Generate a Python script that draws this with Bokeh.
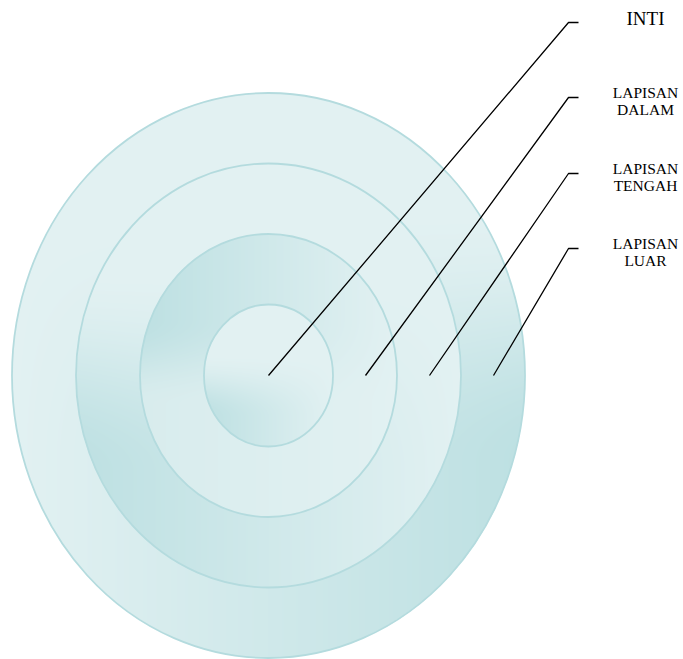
import numpy as np
from bokeh.plotting import figure
from bokeh.models import Range1d
from bokeh.embed import file_html
from bokeh.resources import INLINE
from bokeh.core.properties import value

# ---- data ----
layer_names = ["LAPISAN LUAR", "LAPISAN TENGAH", "LAPISAN DALAM", "INTI"]
radius_x = [256.5, 192.5, 128.5, 64.5]
radius_y = [282.5, 212.0, 141.5, 71.0]
center = (268, 375)
label_lines = [["INTI"], ["LAPISAN", "DALAM"], ["LAPISAN", "TENGAH"], ["LAPISAN", "LUAR"]]
pointer_start_x = [268, 365, 429, 493]
pointer_elbow_y = [22, 97, 173, 248]

# ---- colours ----
def hx(c):
    c = c.lstrip("#")
    return np.array([int(c[i:i + 2], 16) for i in (0, 2, 4)], dtype=float)

L = hx("#e2f1f2")
L2 = hx("#d8eced")
D = hx("#bde0e2")
# per ring: upper-left, upper-right, lower-left, lower-right, blend start, blend end
ring_cols = [
    (L, L, L, D, -0.6, 0.3),
    (L, L, D, L, -0.5, 0.45),
    (D, L, L2, L, -0.4, 0.2),
    (L, L, D, L, -0.3, 0.6),
]

W, H = 683, 659
cx, cy = center
X, Y = np.meshgrid(np.arange(W) + 0.5, np.arange(H) + 0.5)
rgb = np.zeros((H, W, 3))
alpha = np.zeros((H, W))
for k in range(len(radius_x)):
    rx, ry = radius_x[k], radius_y[k]
    ul, ur, ll, lr, c0, c1 = ring_cols[k]
    inside = ((X - cx) / rx) ** 2 + ((Y - cy) / ry) ** 2 <= 1.0
    u = np.clip((X - (cx - rx)) / (2 * rx), 0, 1)[..., None]
    t = np.clip(((Y - cy) / ry - c0) / (c1 - c0), 0, 1)
    w = (t * t * (3 - 2 * t))[..., None]
    top = ul * (1 - u) + ur * u
    bot = ll * (1 - u) + lr * u
    col = top * (1 - w) + bot * w
    rgb[inside] = col[inside]
    alpha[inside] = 255

img = np.zeros((H, W), dtype=np.uint32)
view = img.view(dtype=np.uint8).reshape((H, W, 4))
view[..., 0:3] = np.round(rgb).astype(np.uint8)
view[..., 3] = alpha.astype(np.uint8)
img = np.flipud(img)

# ---- figure ----
p = figure(width=683, height=659, x_range=Range1d(0, 683), y_range=Range1d(-659, 0),
           output_backend="svg", toolbar_location=None, min_border=0)
p.axis.visible = False
p.grid.visible = False
p.outline_line_color = None
p.background_fill_color = "white"
p.border_fill_color = "white"

p.image_rgba(image=[img], x=0, y=-H, dw=W, dh=H)
p.ellipse(x=[cx] * 4, y=[-cy] * 4, width=[2 * r for r in radius_x],
          height=[2 * r for r in radius_y], fill_alpha=0,
          line_color="#b4dbde", line_width=1.8)

xs, ys = [], []
for sx, ey in zip(pointer_start_x, pointer_elbow_y):
    xs.append([sx, 568, 578])
    ys.append([-cy, -ey, -ey])
p.multi_line(xs, ys, line_color="black", line_width=1.3)

for i, lines in enumerate(label_lines):
    if len(lines) == 1:
        p.text(x=[645], y=[-18], text=lines, text_font=value("Liberation Serif"),
               text_font_size="19px", text_align="center", text_baseline="middle",
               text_color="black")
    else:
        base = pointer_elbow_y[i] - 5
        p.text(x=[645, 645], y=[-base, -(base + 17)], text=lines,
               text_font=value("Liberation Serif"), text_font_size="15.5px",
               text_align="center", text_baseline="middle", text_color="black")

open("out.html", "w").write(file_html(p, INLINE))
